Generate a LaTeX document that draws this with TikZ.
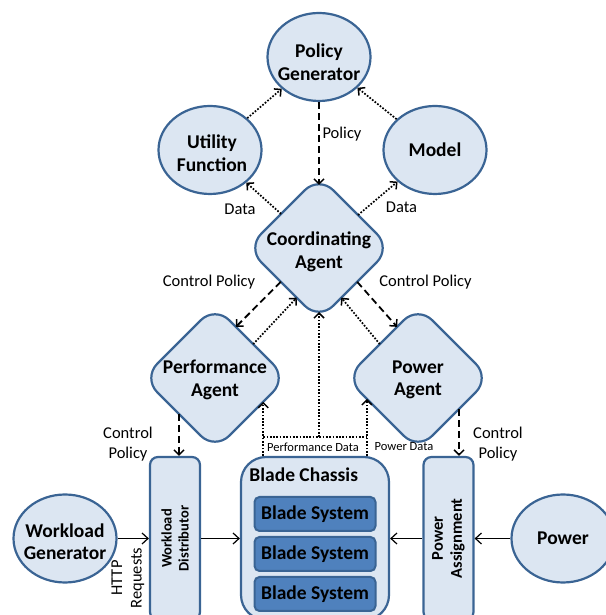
\documentclass[tikz,border=0pt]{standalone}
\usepackage{fontspec}
\setmainfont{Carlito}
\usepackage{tikz}
\usetikzlibrary{positioning, shapes, arrows.meta, calc}

\definecolor{bordo}{HTML}{3A6494}
\definecolor{chiaro}{HTML}{DCE6F2}
\definecolor{scuro}{HTML}{4F81BD}

\begin{document}
\begin{tikzpicture}[x=1pt, y=1pt, on grid,
	cerchio/.style={ellipse, draw=bordo, fill=chiaro, line width=2.2pt, minimum width=103pt, minimum height=88pt, inner sep=0pt, align=center, font=\bfseries\fontsize{19.5}{22.5}\selectfont},
	agente/.style={diamond, draw=bordo, fill=chiaro, line width=2.2pt, rounded corners=20pt, minimum width=144pt, minimum height=144pt, inner sep=0pt, outer sep=0pt},
	scatola/.style={rectangle, draw=bordo, fill=chiaro, line width=2.2pt, rounded corners=8pt, minimum width=50pt, minimum height=163pt, inner sep=0pt},
	blade/.style={rectangle, draw=bordo, fill=scuro, line width=2pt, rounded corners=5pt, minimum width=121pt, minimum height=34pt, inner sep=0pt, font=\bfseries\fontsize{19.5}{22.5}\selectfont},
	grassetto/.style={align=center, font=\bfseries\fontsize{19.5}{22.5}\selectfont},
	etich/.style={align=center, font=\fontsize{16.5}{19.5}\selectfont},
	piccolo/.style={font=\fontsize{12.5}{14}\selectfont},
	tratt/.style={line width=1.8pt, dash pattern=on 7pt off 4pt, -{Straight Barb[length=5pt, width=10pt, line width=1.5pt]}},
	punt/.style={line width=1.7pt, dash pattern=on 1.7pt off 1.6pt, -{Straight Barb[length=5pt, width=10pt, line width=1.5pt]}},
	freccia/.style={line width=1.3pt, -{Straight Barb[length=6pt, width=11pt, line width=1.2pt]}}]
	\useasboundingbox (0,0) rectangle (605,615);

	% Livello superiore
	\node[cerchio] (gen) at (319,558) {};
	\node[grassetto] at ($(gen)+(0,-5)$) {Policy\\Generator};
	\node[cerchio, below left=93pt and 109pt of gen] (util) {};
	\node[grassetto] at ($(util)+(2,-3)$) {Utility\\Function};
	\node[cerchio, below right=93pt and 116pt of gen] (model) {Model};

	% Agenti
	\node[agente, below=191pt of gen] (coord) {};
	\node[grassetto] at ($(coord)+(0,-4)$) {Coordinating\\Agent};
	\node[agente, below left=130pt and 104pt of coord] (perf) {};
	\node[grassetto] at ($(perf)+(0,-2)$) {Performance\\Agent};
	\node[agente, below right=130pt and 99pt of coord] (pwr) {};
	\node[grassetto] at ($(pwr)+(0,-2)$) {Power\\Agent};

	% Livello inferiore
	\node[scatola, minimum width=148pt, rounded corners=25pt] (chassis) at (315,76.5) {};
	\node[grassetto, anchor=base west] at ($(chassis.north west)+(6,-26)$) {Blade Chassis};
	\node[blade, below=15.5pt of chassis] (bs2) {Blade System};
	\node[blade, above=40pt of bs2] (bs1) {Blade System};
	\node[blade, below=40pt of bs2] (bs3) {Blade System};
	\node[scatola, left=140pt of chassis] (wd) {};
	\node[rotate=90, align=center, font=\bfseries\fontsize{14.5}{17}\selectfont] at (wd) {Workload\\Distributor};
	\node[scatola, right=133.5pt of chassis] (pa) {};
	\node[rotate=90, align=center, font=\bfseries\fontsize{16.5}{19}\selectfont] at (pa) {Power\\Assignment};
	\node[cerchio, left=110pt of wd] (wg) {};
	\node[grassetto] at ($(wg)+(0,-3)$) {Workload\\Generator};
	\node[cerchio, right=114.5pt of pa] (power) {Power};

	% Connessioni in alto
	\draw[punt] (util) -- (gen);
	\draw[punt] (model) -- (gen);
	\draw[tratt, shorten >=-9pt] (gen) -- (coord);
	\draw[punt] (coord) -- (util);
	\draw[punt] (coord) -- (model);
	\draw[tratt] ($(coord.west)!0.47!(coord.south)$) -- ($(perf.north)!0.29!(perf.east)$);
	\draw[punt] ($(perf.north)!0.53!(perf.east)$) -- ($(coord.west)!0.69!(coord.south)$);
	\draw[tratt] ($(coord.east)!0.47!(coord.south)$) -- ($(pwr.north)!0.29!(pwr.west)$);
	\draw[punt] ($(pwr.north)!0.53!(pwr.west)$) -- ($(coord.east)!0.69!(coord.south)$);

	% Dati dal chassis
	\coordinate (perft) at ($(perf.east)!0.33!(perf.south)$);
	\coordinate (pwrt) at ($(pwr.west)!0.29!(pwr.south)$);
	\coordinate (bus) at (319,178);
	\draw[punt] (perft |- chassis.north) -- (perft);
	\draw[punt] (pwrt |- chassis.north) -- (pwrt);
	\draw[punt, -] (perft |- bus) -- (pwrt |- bus);
	\draw[punt, shorten >=-8pt] (bus) -- (coord);

	% Politiche di controllo
	\coordinate (pwrcp) at ($(pwr.east)!0.43!(pwr.south)$);
	\draw[tratt] (perf.south west) -- (perf.south west |- wd.north);
	\draw[tratt] (pwrcp) -- (pwrcp |- pa.north);

	% Flussi
	\draw[freccia] (wg) -- (wd);
	\draw[freccia] (wd) -- (chassis);
	\draw[freccia] (pa) -- (chassis);
	\draw[freccia] (power) -- (pa);

	% Etichette
	\node[etich] at (342,481) {Policy};
	\node[etich] at (240,406) {Data};
	\node[etich] at (401.5,408) {Data};
	\node[etich] at (209,333) {Control Policy};
	\node[etich] at (425.5,333) {Control Policy};
	\node[etich] at (128,171) {Control\\Policy};
	\node[etich] at (498,171) {Control\\Policy};
	\node[piccolo] at (313,168) {Performance Data};
	\node[piccolo] at (404,168) {Power Data};
	\node[etich, rotate=90] at (128,37) {HTTP\\Requests};
\end{tikzpicture}
\end{document}
